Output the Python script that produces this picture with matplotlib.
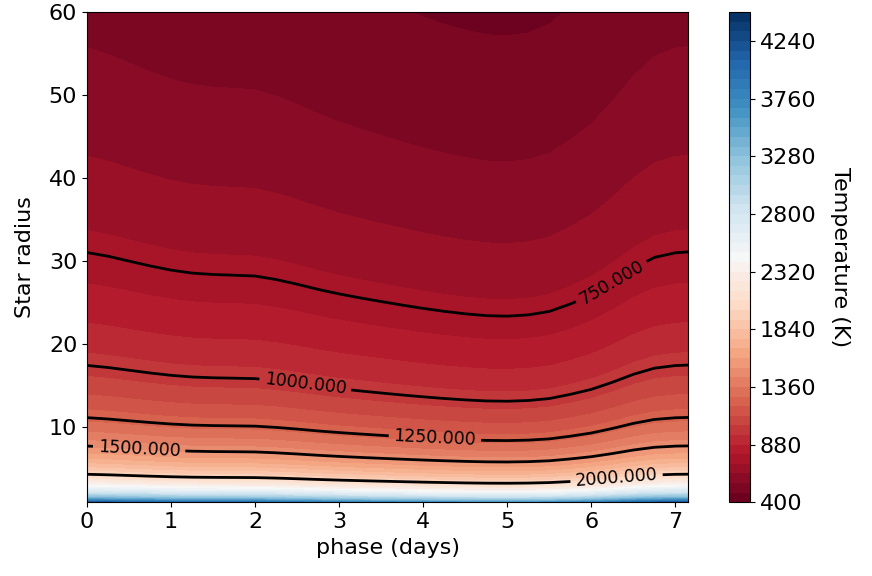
import numpy as np
import matplotlib
matplotlib.use("Agg")
import matplotlib.pyplot as plt

# temperature scale (K at 1 star radius) read along the phase axis
phase = [0.0, 0.25, 0.5, 0.75, 1.0, 1.25, 1.5, 1.75, 2.0, 2.25, 2.5, 2.75,
         3.0, 3.25, 3.5, 3.75, 4.0, 4.25, 4.5, 4.75, 5.0, 5.25, 5.5, 5.75,
         6.0, 6.25, 6.5, 6.75, 7.0, 7.15]
t_scale = [4180, 4150, 4110, 4070, 4035, 4010, 3998, 3992, 3985, 3955, 3915, 3870,
           3830, 3795, 3762, 3730, 3700, 3673, 3650, 3633, 3628, 3640, 3672, 3740,
           3820, 3930, 4050, 4140, 4178, 4185]

radius = np.linspace(1, 60, 600)
fill_levels = np.arange(400, 4481, 80)
line_levels = [750, 1000, 1250, 1500, 2000]
label_pos = [(6.27, 27.0), (2.6, 15.4), (4.14, 8.9), (0.62, 7.5), (6.3, 3.9)]

# temperature falls off as r^-1/2 from the star
P, R = np.meshgrid(phase, radius)
T = np.array(t_scale)[None, :] / np.sqrt(R)

fig = plt.figure(figsize=(8.72, 5.76), dpi=100)
ax = fig.add_axes([0.0998, 0.128, 0.6892, 0.851])
cax = fig.add_axes([0.836, 0.128, 0.024, 0.851])

cf = ax.contourf(P, R, T, levels=fill_levels, cmap="RdBu")
cs = ax.contour(P, R, T, levels=line_levels, colors="black", linewidths=2)
ax.clabel(cs, fmt="%1.3f", fontsize=12.5, inline=True, manual=label_pos)

ax.set_xlim(0, 7.15)
ax.set_ylim(1, 60)
ax.set_xlabel("phase (days)", fontsize=16)
ax.set_ylabel("Star radius", fontsize=16, labelpad=10)
ax.tick_params(labelsize=16)

cbar = fig.colorbar(cf, cax=cax)
cbar.set_ticks(fill_levels[::6])
cbar.ax.tick_params(labelsize=16)
cbar.set_label("Temperature (K)", fontsize=16, rotation=270, labelpad=24)

fig.savefig("out.png", dpi=100)
